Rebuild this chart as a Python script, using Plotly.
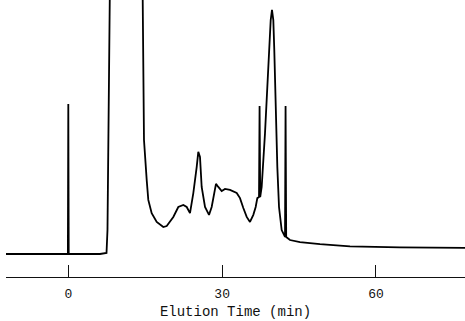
import plotly.graph_objects as go

# Elution time (min) and detector response (relative units)
time_min = [-12.15, -0.08, 0.0, 0.08, 6.18, 7.16, 7.45, 7.64, 7.74, 7.94, 8.13, 8.33,
            11.06, 14.27, 14.51, 14.63, 14.76, 15.29, 15.60, 16.26, 17.24, 18.53,
            19.19, 20.48, 21.45, 22.43, 23.09, 23.73, 24.38, 25.04, 25.35, 25.68,
            26.01, 26.66, 27.44, 27.96, 28.41, 28.80, 29.25, 29.91, 30.56, 31.53,
            32.84, 33.48, 34.13, 34.79, 35.43, 36.08, 36.54, 36.86, 37.19, 37.30,
            37.42, 37.71, 38.36, 38.81, 39.20, 39.47, 39.72, 39.98, 40.17, 40.44,
            40.76, 41.09, 41.61, 42.26, 42.37, 42.49, 43.23, 45.18, 49.08, 54.93,
            64.68, 77.36]
response = [0.0, 0.0, 0.591, 0.0, 0.0, 0.004, 0.004, 0.094, 0.331, 0.685, 1.0, 1.5,
            3.0, 1.5, 1.0, 0.528, 0.449, 0.291, 0.213, 0.161, 0.126, 0.106,
            0.110, 0.146, 0.185, 0.193, 0.185, 0.161, 0.240, 0.343, 0.402, 0.382,
            0.264, 0.185, 0.154, 0.185, 0.244, 0.276, 0.264, 0.248, 0.256, 0.252,
            0.240, 0.220, 0.181, 0.146, 0.126, 0.154, 0.185, 0.220, 0.224, 0.583,
            0.224, 0.264, 0.476, 0.673, 0.803, 0.921, 0.961, 0.921, 0.803, 0.539,
            0.343, 0.185, 0.094, 0.067, 0.583, 0.067, 0.055, 0.047, 0.039, 0.030,
            0.026, 0.024]

tick_values = [0, 30, 60]
tick_labels = ["0", "30", "60"]
x_title = "Elution Time (min)"

fig = go.Figure()
fig.add_trace(go.Scatter(
    x=time_min, y=response, mode="lines",
    line=dict(color="#000000", width=1.8),
    hoverinfo="skip", showlegend=False,
))

fig.update_layout(
    width=465, height=321,
    margin=dict(l=6, r=0, t=0, b=44),
    paper_bgcolor="white", plot_bgcolor="white",
    font=dict(family="Liberation Mono", size=13, color="#111111"),
)
fig.update_xaxes(
    range=[-12.15, 77.36],
    showgrid=False, zeroline=False,
    showline=True, linecolor="#111111", linewidth=1.2,
    ticks="inside", ticklen=12, tickwidth=1.2, tickcolor="#111111",
    tickvals=tick_values, ticktext=tick_labels,
    ticklabelstandoff=4,
    title=dict(text=x_title, standoff=5, font=dict(size=14)),
    automargin=False,
)
fig.update_yaxes(range=[-0.0906, 1.0], visible=False)

fig.write_html("out.html")
